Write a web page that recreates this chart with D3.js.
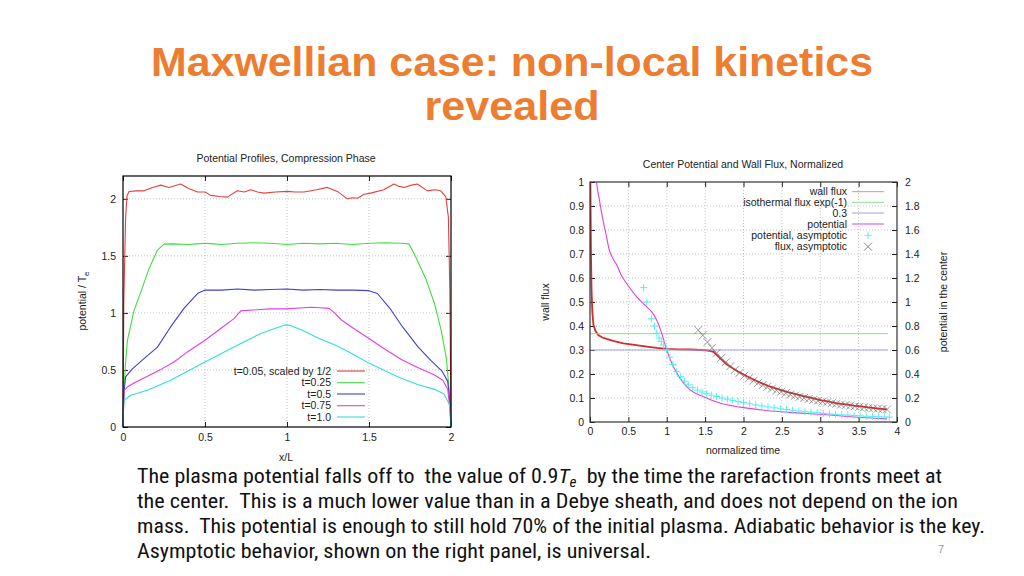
<!DOCTYPE html>
<html><head><meta charset="utf-8">
<script src="https://cdn.jsdelivr.net/npm/d3@7"></script>
<style>
body{margin:0;background:#fff;}
svg{display:block;}
text{font-family:"Liberation Sans",Arial,sans-serif;}
</style>
</head><body>
<svg id="c" width="1024" height="576"></svg>
<script>
// ---------- Left chart data: potential profiles ([x/L, potential/Te]) ----------
const leftTicksX = [0, 0.5, 1, 1.5, 2];
const leftTicksY = [0, 0.5, 1, 1.5, 2];
const leftLabels = ["t=0.05, scaled by 1/2", "t=0.25", "t=0.5", "t=0.75", "t=1.0"];
const profT005 = [[0,0],[0.005,1.1],[0.016,1.84],[0.025,2.03],[0.037,2.064],[0.08,2.07],[0.128,2.07],[0.18,2.1],[0.23,2.12],[0.28,2.10],[0.352,2.13],[0.40,2.09],[0.454,2.06],[0.5,2.06],[0.535,2.03],[0.59,2.02],[0.636,2.015],[0.697,2.07],[0.74,2.06],[0.779,2.08],[0.82,2.06],[0.86,2.05],[0.93,2.06],[1.002,2.065],[1.05,2.06],[1.104,2.06],[1.18,2.08],[1.246,2.10],[1.307,2.065],[1.368,2.0],[1.40,2.01],[1.43,2.005],[1.47,2.04],[1.51,2.05],[1.59,2.08],[1.652,2.13],[1.68,2.11],[1.713,2.10],[1.76,2.12],[1.795,2.13],[1.856,2.07],[1.90,2.08],[1.937,2.07],[1.968,2.02],[1.984,1.84],[1.993,1.2],[2.0,0]];
const profT025 = [[0,0],[0.005,0.3],[0.015,0.55],[0.027,0.76],[0.067,1.02],[0.108,1.18],[0.159,1.39],[0.21,1.55],[0.25,1.603],[0.3,1.605],[0.4,1.60],[0.45,1.605],[0.5,1.61],[0.55,1.605],[0.6,1.60],[0.7,1.61],[0.8,1.615],[0.9,1.61],[1.0,1.60],[1.1,1.61],[1.2,1.605],[1.3,1.61],[1.4,1.60],[1.5,1.61],[1.6,1.615],[1.7,1.61],[1.744,1.605],[1.785,1.49],[1.846,1.30],[1.90,1.08],[1.94,0.85],[1.972,0.6],[1.99,0.3],[2.0,0]];
const profT05 = [[0,0],[0.006,0.3],[0.016,0.44],[0.057,0.51],[0.128,0.60],[0.21,0.70],[0.29,0.877],[0.372,1.04],[0.454,1.17],[0.5,1.2],[0.6,1.20],[0.7,1.21],[0.8,1.20],[0.9,1.205],[1.0,1.21],[1.1,1.20],[1.2,1.205],[1.3,1.20],[1.4,1.20],[1.5,1.195],[1.551,1.17],[1.625,1.045],[1.705,0.877],[1.80,0.70],[1.88,0.58],[1.945,0.49],[1.98,0.40],[1.994,0.2],[2.0,0]];
const profT075 = [[0,0],[0.003,0.2],[0.006,0.32],[0.026,0.35],[0.067,0.386],[0.149,0.445],[0.23,0.503],[0.311,0.57],[0.393,0.658],[0.5,0.76],[0.596,0.863],[0.677,0.95],[0.718,1.018],[0.84,1.03],[0.9,1.035],[1.0,1.035],[1.1,1.045],[1.15,1.05],[1.2,1.045],[1.256,1.04],[1.29,1.0],[1.33,0.94],[1.40,0.87],[1.50,0.775],[1.60,0.68],[1.70,0.59],[1.80,0.52],[1.90,0.455],[1.95,0.41],[1.98,0.33],[1.996,0.12],[2.0,0]];
const profT10 = [[0,0],[0.003,0.15],[0.006,0.234],[0.047,0.278],[0.149,0.322],[0.29,0.41],[0.5,0.57],[0.697,0.717],[0.84,0.82],[0.982,0.892],[1.0,0.895],[1.02,0.89],[1.094,0.848],[1.196,0.775],[1.297,0.717],[1.40,0.64],[1.50,0.56],[1.60,0.49],[1.70,0.425],[1.80,0.37],[1.90,0.33],[1.957,0.29],[1.99,0.2],[2.0,0]];

// ---------- Right chart data ----------
const rightTicksX = [0,0.5,1,1.5,2,2.5,3,3.5,4];
const rightTicksY = [0,0.1,0.2,0.3,0.4,0.5,0.6,0.7,0.8,0.9,1];
const rightTicksY2 = [0,0.2,0.4,0.6,0.8,1,1.2,1.4,1.6,1.8,2];
const rightLabels = ["wall flux","isothermal flux exp(-1)","0.3","potential","potential, asymptotic","flux, asymptotic"];
const wallFlux = [[0,1.3],[0.005,1.0],[0.012,0.72],[0.02,0.55],[0.03,0.46],[0.045,0.405],[0.07,0.38],[0.108,0.362],[0.16,0.352],[0.217,0.346],[0.3,0.338],[0.435,0.328],[0.6,0.32],[0.74,0.314],[0.87,0.309],[1.0,0.305],[1.15,0.303],[1.3,0.302],[1.45,0.30],[1.55,0.297],[1.61,0.292],[1.68,0.27],[1.78,0.24],[1.9,0.216],[2.0,0.198],[2.13,0.177],[2.25,0.16],[2.35,0.147],[2.45,0.137],[2.565,0.126],[2.67,0.117],[2.78,0.108],[2.9,0.0995],[3.0,0.0915],[3.1,0.086],[3.217,0.078],[3.33,0.073],[3.435,0.068],[3.55,0.064],[3.65,0.06],[3.76,0.056],[3.87,0.053]];
const isoFlux = [[0,0.368],[3.88,0.368]];
const constLine = [[0,0.3],[3.88,0.3]];
const potential = [[0.06,1.1],[0.085,1.0],[0.12,0.93],[0.17,0.84],[0.21,0.78],[0.252,0.716],[0.30,0.68],[0.348,0.655],[0.41,0.61],[0.478,0.577],[0.609,0.521],[0.74,0.48],[0.805,0.459],[0.87,0.424],[0.935,0.369],[1.0,0.30],[1.087,0.23],[1.174,0.182],[1.3,0.135],[1.48,0.105],[1.7,0.078],[1.96,0.062],[2.3,0.048],[2.6,0.04],[3.0,0.032],[3.4,0.022],[3.87,0.013]];
const potAsymX = [0.70,0.74,0.80,0.84,0.87,0.90,0.93,0.96,1.0,1.04,1.08,1.13,1.18,1.23,1.28,1.34,1.40,1.46,1.52,1.58,1.65,1.72,1.79,1.86,1.93,2.0,2.08,2.16,2.24,2.32,2.40,2.48,2.56,2.64,2.72,2.80,2.88,2.96,3.04,3.12,3.20,3.28,3.36,3.44,3.52,3.60,3.68,3.76,3.84,3.90];
const potAsymY = [0.56,0.50,0.43,0.40,0.37,0.35,0.335,0.32,0.30,0.27,0.24,0.21,0.19,0.17,0.155,0.143,0.133,0.125,0.118,0.112,0.106,0.10,0.095,0.09,0.085,0.081,0.076,0.071,0.067,0.063,0.059,0.055,0.052,0.049,0.046,0.043,0.041,0.039,0.036,0.034,0.032,0.03,0.029,0.027,0.026,0.024,0.023,0.022,0.021,0.020];
const fluxAsymX = [1.41,1.47,1.53,1.59,1.65,1.71,1.77,1.83,1.89,1.95,2.01,2.07,2.13,2.19,2.25,2.31,2.37,2.43,2.49,2.55,2.61,2.67,2.73,2.79,2.85,2.91,2.97,3.03,3.09,3.15,3.21,3.27,3.33,3.39,3.45,3.51,3.57,3.63,3.69,3.75,3.81,3.87];
const fluxAsymY = [0.383,0.361,0.333,0.309,0.287,0.267,0.249,0.233,0.218,0.205,0.193,0.182,0.172,0.163,0.154,0.146,0.139,0.132,0.126,0.120,0.1145,0.1094,0.1047,0.1002,0.096,0.0921,0.0884,0.085,0.0817,0.0786,0.0757,0.0729,0.0703,0.0679,0.0655,0.0633,0.0612,0.0592,0.0573,0.0555,0.0537,0.0521];

// ---------- Texts ----------
const titleLines = ["Maxwellian case: non-local kinetics", "revealed"];
const bodyLines = [
  ["The plasma potential falls off to  the value of 0.9", "T", "e", "  by the time the rarefaction fronts meet at"],
  ["the center.  This is a much lower value than in a Debye sheath, and does not depend on the ion"],
  ["mass.  This potential is enough to still hold 70% of the initial plasma. Adiabatic behavior is the key."],
  ["Asymptotic behavior, shown on the right panel, is universal."]
];

const svg = d3.select("#c");
svg.append("rect").attr("width",1024).attr("height",576).attr("fill","#fff");

// ---------- Title ----------
const titleW = [722, 175];
const titleBase = [76, 120];
titleLines.forEach((t,i)=>{
  svg.append("text").attr("x",512).attr("y",titleBase[i]).attr("text-anchor","middle")
    .attr("fill","#ED7D31").style("font-family","'Liberation Sans', Arial, sans-serif")
    .style("font-weight","700").style("font-size","40px")
    .attr("textLength",titleW[i]).attr("lengthAdjust","spacingAndGlyphs").text(t);
});

// ---------- helper ----------
function frameAxes(g, x, y, opts){
  const [x0,x1] = x.range(), [y0,y1] = y.range();
  g.append("g").selectAll("line").data(opts.gridX).join("line")
    .attr("x1",d=>x(d)).attr("x2",d=>x(d)).attr("y1",y0).attr("y2",y1)
    .attr("stroke","#c4c4c4").attr("stroke-dasharray","1,2");
  g.append("g").selectAll("line").data(opts.gridY).join("line")
    .attr("x1",x0).attr("x2",x1).attr("y1",d=>y(d)).attr("y2",d=>y(d))
    .attr("stroke","#c4c4c4").attr("stroke-dasharray","1,2");
}
function styleAxis(sel){
  sel.select(".domain").remove();
  sel.selectAll(".tick line").attr("stroke","#222");
  sel.selectAll(".tick text").style("font-size","10.5px").attr("fill","#222")
     .style("font-family","'Liberation Sans',Arial,sans-serif");
}

// ---------- Left chart ----------
const xL = d3.scaleLinear().domain([0,2]).range([123,451]);
const yL = d3.scaleLinear().domain([0,2.2]).range([427,176]);
const gL = svg.append("g");
frameAxes(gL, xL, yL, {gridX:[0.5,1,1.5], gridY:[0.5,1,1.5,2]});
const fmt = d3.format("~g");
gL.append("g").attr("transform","translate(0,427)")
  .call(d3.axisBottom(xL).tickValues(leftTicksX).tickFormat(fmt).tickSizeInner(-5).tickSizeOuter(0).tickPadding(7)).call(styleAxis);
gL.append("g").attr("transform","translate(0,176)")
  .call(d3.axisTop(xL).tickValues(leftTicksX).tickFormat("").tickSizeInner(-5).tickSizeOuter(0)).call(styleAxis);
gL.append("g").attr("transform","translate(123,0)")
  .call(d3.axisLeft(yL).tickValues(leftTicksY).tickFormat(fmt).tickSizeInner(-5).tickSizeOuter(0).tickPadding(7)).call(styleAxis);
gL.append("g").attr("transform","translate(451,0)")
  .call(d3.axisRight(yL).tickValues(leftTicksY).tickFormat("").tickSizeInner(-5).tickSizeOuter(0)).call(styleAxis);

const leftColors = ["#e04040","#40dd40","#4040cc","#e040e0","#30dede"];
const leftSeries = [profT005, profT025, profT05, profT075, profT10];
const lineL = d3.line().x(d=>xL(d[0])).y(d=>yL(d[1]));
leftSeries.forEach((s,i)=>{
  gL.append("path").datum(s).attr("d",lineL).attr("fill","none")
    .attr("stroke",leftColors[i]).attr("stroke-width",1.1).attr("stroke-linejoin","round");
});
gL.append("rect").attr("x",123).attr("y",176).attr("width",328).attr("height",251)
  .attr("fill","none").attr("stroke","#000").attr("stroke-width",1.2);

const legLY = [371, 382.7, 394, 405.7, 417];
leftLabels.forEach((t,i)=>{
  gL.append("text").attr("x",331).attr("y",legLY[i]).attr("dy","0.35em").attr("text-anchor","end")
    .style("font-size","10.5px").attr("fill","#222").text(t);
  gL.append("line").attr("x1",337).attr("x2",365).attr("y1",legLY[i]).attr("y2",legLY[i])
    .attr("stroke",leftColors[i]).attr("stroke-width",1.1);
});
gL.append("text").attr("x",286).attr("y",162).attr("text-anchor","middle").style("font-size","10.5px").attr("fill","#222")
  .text("Potential Profiles, Compression Phase");
gL.append("text").attr("x",286).attr("y",461).attr("text-anchor","middle").style("font-size","10.5px").attr("fill","#222").text("x/L");
const yl = gL.append("text").attr("transform","translate(86,301) rotate(-90)").attr("text-anchor","middle")
  .style("font-size","10.5px").attr("fill","#222");
yl.append("tspan").text("potential / T");
yl.append("tspan").attr("dy",3).style("font-size","8px").text("e");

// ---------- Right chart ----------
const xR = d3.scaleLinear().domain([0,4]).range([590,897]);
const yR = d3.scaleLinear().domain([0,1]).range([422,182]);
const yR2 = d3.scaleLinear().domain([0,2]).range([422,182]);
const gR = svg.append("g");
frameAxes(gR, xR, yR, {gridX:[0.5,1,1.5,2,2.5,3,3.5], gridY:[0.1,0.2,0.3,0.4,0.5,0.6,0.7,0.8,0.9]});
gR.append("g").attr("transform","translate(0,422)")
  .call(d3.axisBottom(xR).tickValues(rightTicksX).tickFormat(fmt).tickSizeInner(-5).tickSizeOuter(0).tickPadding(6)).call(styleAxis);
gR.append("g").attr("transform","translate(0,182)")
  .call(d3.axisTop(xR).tickValues(rightTicksX).tickFormat("").tickSizeInner(-5).tickSizeOuter(0)).call(styleAxis);
gR.append("g").attr("transform","translate(590,0)")
  .call(d3.axisLeft(yR).tickValues(rightTicksY).tickFormat(fmt).tickSizeInner(-5).tickSizeOuter(0).tickPadding(6)).call(styleAxis);
gR.append("g").attr("transform","translate(897,0)")
  .call(d3.axisRight(yR2).tickValues(rightTicksY2).tickFormat(fmt).tickSizeInner(-5).tickSizeOuter(0).tickPadding(8)).call(styleAxis);

svg.append("clipPath").attr("id","clipR").append("rect").attr("x",590).attr("y",182).attr("width",307).attr("height",240);
const gD = gR.append("g").attr("clip-path","url(#clipR)");
const lineR = d3.line().x(d=>xR(d[0])).y(d=>yR(d[1]));
const rColors = {flux:"#d42a2a", iso:"#90e090", c03:"#a0a0f0", pot:"#e040e0", potA:"#55eeee", fluxA:"#6a6a6a"};
gD.append("path").datum(wallFlux).attr("d",lineR).attr("fill","none").attr("stroke",rColors.flux).attr("stroke-width",1.8);
gD.append("path").datum(isoFlux).attr("d",lineR).attr("fill","none").attr("stroke",rColors.iso).attr("stroke-width",1);
gD.append("path").datum(constLine).attr("d",lineR).attr("fill","none").attr("stroke",rColors.c03).attr("stroke-width",1);
gD.append("path").datum(potential).attr("d",d3.line().curve(d3.curveMonotoneX).x(d=>xR(d[0])).y(d=>yR(d[1])))
  .attr("fill","none").attr("stroke",rColors.pot).attr("stroke-width",1.1);
const plusPath = "M-3.5,0H3.5M0,-3.5V3.5";
const xPath = "M-4,-4L4,4M-4,4L4,-4";
gD.selectAll("path.pa").data(potAsymX).join("path").attr("class","pa")
  .attr("transform",(d,i)=>`translate(${xR(d)},${yR(potAsymY[i])})`).attr("d",plusPath)
  .attr("stroke",rColors.potA).attr("stroke-width",1).attr("fill","none");
gD.selectAll("path.fa").data(fluxAsymX).join("path").attr("class","fa")
  .attr("transform",(d,i)=>`translate(${xR(d)},${yR(fluxAsymY[i])})`).attr("d",xPath)
  .attr("stroke",rColors.fluxA).attr("stroke-width",0.9).attr("opacity",0.75).attr("fill","none");
gR.append("rect").attr("x",590).attr("y",182).attr("width",307).attr("height",240)
  .attr("fill","none").attr("stroke","#333").attr("stroke-width",1.2);

const legRY = [191.7, 202.3, 213, 224, 235.3, 246.7];
const legRCol = ["#e88", rColors.iso, rColors.c03, rColors.pot];
rightLabels.forEach((t,i)=>{
  gR.append("text").attr("x",847).attr("y",legRY[i]).attr("dy","0.35em").attr("text-anchor","end")
    .style("font-size","10.5px").attr("fill","#222").text(t);
  if(i<4){
    gR.append("line").attr("x1",852).attr("x2",884).attr("y1",legRY[i]).attr("y2",legRY[i])
      .attr("stroke",legRCol[i]).attr("stroke-width",1);
  } else if(i===4){
    gR.append("path").attr("transform",`translate(868,${legRY[i]})`).attr("d",plusPath).attr("stroke",rColors.potA).attr("fill","none");
  } else {
    gR.append("path").attr("transform",`translate(868,${legRY[i]})`).attr("d",xPath).attr("stroke","#888").attr("fill","none");
  }
});
gR.append("text").attr("x",743).attr("y",168).attr("text-anchor","middle").style("font-size","10.5px").attr("fill","#222")
  .text("Center Potential and Wall Flux, Normalized");
gR.append("text").attr("x",743).attr("y",454).attr("text-anchor","middle").style("font-size","10.5px").attr("fill","#222").text("normalized time");
gR.append("text").attr("transform","translate(549,302) rotate(-90)").attr("text-anchor","middle").style("font-size","10.5px").attr("fill","#222").text("wall flux");
gR.append("text").attr("transform","translate(947,302) rotate(-90)").attr("text-anchor","middle").style("font-size","10.5px").attr("fill","#222").text("potential in the center");

// ---------- Body text ----------
const bodyW = [805, 821, 848, 514];
const bodyBase = [483, 508, 533, 558];
bodyLines.forEach((parts,i)=>{
  const t = svg.append("text").attr("x",137).attr("y",bodyBase[i]).attr("fill","#111")
    .style("font-family","'Liberation Sans Narrow','Roboto Condensed','Liberation Sans',sans-serif")
    .style("font-size","20px").style("white-space","pre")
    .attr("textLength",bodyW[i]).attr("lengthAdjust","spacingAndGlyphs");
  if(parts.length===1){ t.text(parts[0]); }
  else {
    t.append("tspan").text(parts[0]);
    t.append("tspan").style("font-style","italic").text(parts[1]);
    t.append("tspan").attr("dy",4).style("font-style","italic").style("font-size","14px").text(parts[2]);
    t.append("tspan").attr("dy",-4).text(parts[3]);
  }
});
svg.append("text").attr("x",941).attr("y",553).attr("text-anchor","middle").style("font-size","11px").attr("fill","#999").text("7");
</script>
</body></html>
